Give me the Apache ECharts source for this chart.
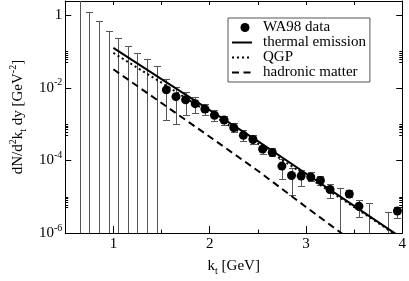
<!DOCTYPE html>
<html><head><meta charset="utf-8">
<script src="https://cdn.jsdelivr.net/npm/echarts@6/dist/echarts.min.js"></script>
<style>html,body{margin:0;padding:0;background:#fff}#c{width:409px;height:281px}</style>
</head><body><div id="c"></div>
<script>
// ---- data ----
const wa98X  = [1.55,1.65,1.75,1.85,1.95,2.05,2.15,2.25,2.35,2.45,2.55,2.65,2.75,2.85,2.95,3.05,3.15,3.25,3.45,3.55,3.95];
const wa98Y  = [8.8e-3,5.7e-3,4.65e-3,3.66e-3,2.61e-3,1.75e-3,1.30e-3,8.0e-4,4.9e-4,3.76e-4,2.06e-4,1.66e-4,7.0e-5,3.86e-5,3.72e-5,3.51e-5,2.81e-5,1.59e-5,1.19e-5,5.48e-6,4.06e-6];
const wa98Up = [1.70e-2,1.05e-2,7.5e-3,5.56e-3,3.59e-3,2.40e-3,1.72e-3,1.08e-3,6.7e-4,4.89e-4,2.53e-4,2.19e-4,1.07e-4,6.1e-5,5.53e-5,4.82e-5,3.79e-5,2.21e-5,1.50e-5,8.13e-6,5.16e-6];
const wa98Lo = [1.30e-3,1.02e-3,1.82e-3,1.97e-3,1.78e-3,1.24e-3,9.6e-4,5.96e-4,3.48e-4,2.78e-4,1.53e-4,1.31e-4,3.11e-5,1.15e-5,1.93e-5,2.69e-5,2.17e-5,9.0e-6,9.55e-6,2.72e-6,2.56e-6];
// bins whose central value lies below the axis: only the upper error end is visible
const limitX  = [0.65,0.75,0.85,0.95,1.05,1.15,1.25,1.35,1.45,3.35,3.65,3.85];
const limitUp = [3.5,1.22,0.67,0.355,0.228,0.139,0.0894,0.0609,0.0389,1.71e-5,6.67e-6,3.89e-6];
const BELOW_AXIS = 1e-9;
const curveX    = [1.0,1.5,2.0,2.5,3.0,3.5,4.0];
const thermalY  = [0.125,0.0174,2.43e-3,3.39e-4,4.38e-5,5.6e-6,7.2e-7];
const qgpY      = [0.091,0.0138,2.0e-3,2.9e-4,3.8e-5,5.2e-6,6.9e-7];
const hadronicY = [0.0323,3.81e-3,4.5e-4,5.2e-5,5.25e-6,5.5e-7];
const xTickLabels = [1,2,3,4];
const xMinorTicks = [1.5,2.5,3.5];
const yTickLabels = [1e-6,1e-4,1e-2,1];
const yMinorTicks = [5e-6,6e-6,7e-6,8e-6,9e-6,1e-5,5e-4,6e-4,7e-4,8e-4,9e-4,1e-3,5e-2,6e-2,7e-2,8e-2,9e-2,1e-1];
const seriesNames = ['WA98 data','thermal emission','QGP','hadronic matter'];

// ---- build ----
const FONT = 'Liberation Serif';
const zip = (a,b) => a.map((v,i)=>[v,b[i]]);
const errData = wa98X.map((x,i)=>[x, wa98Lo[i], wa98Up[i], 1])
  .concat(limitX.map((x,i)=>[x, BELOW_AXIS, limitUp[i], 0]));
const rich = {
  sup:{fontSize:10, lineHeight:10, verticalAlign:'top', fontFamily:FONT, color:'#000'},
  sub:{fontSize:10, lineHeight:10, verticalAlign:'bottom', fontFamily:FONT, color:'#000'}
};
const ERR = '#555';
function renderErr(params, api){
  const x = api.value(0), lo = api.value(1), hi = api.value(2), capLo = api.value(3);
  const a = api.coord([x, hi]), b = api.coord([x, lo]);
  const px = Math.round(a[0]) + 0.5;
  const ya = Math.round(a[1]) + 0.5, yb = Math.round(b[1]) + 0.5;
  const w = 3.5, st = {stroke:ERR, lineWidth:1};
  const ch = [
    {type:'line', shape:{x1:px,y1:ya,x2:px,y2:yb}, style:st},
    {type:'line', shape:{x1:px-w,y1:ya,x2:px+w,y2:ya}, style:st}
  ];
  if (capLo) ch.push({type:'line', shape:{x1:px-w,y1:yb,x2:px+w,y2:yb}, style:st});
  return {type:'group', children:ch};
}
const yBase = {type:'log', min:1e-6, max:2.45, splitLine:{show:false}, minorTick:{show:false}};
const xBase = {type:'value', min:0.5, max:4, splitLine:{show:false}};
const black = {color:'#000', width:1};
const noSym = {color:'rgba(0,0,0,0)', borderWidth:0};
const option = {
  animation:false,
  backgroundColor:'#fff',
  grid:{left:53, right:5, top:1, bottom:34, containLabel:false},
  xAxis:[
    Object.assign({}, xBase, {position:'bottom', interval:0.5,
      axisLine:{show:true, onZero:false, lineStyle:black},
      axisTick:{show:true, inside:true, length:7, customValues:xTickLabels, lineStyle:black},
      axisLabel:{show:true, customValues:xTickLabels, fontSize:15, fontFamily:FONT, color:'#000', margin:3},
      name:'k{sub|t} [GeV]', nameLocation:'middle', nameGap:21,
      nameTextStyle:{fontSize:15, fontFamily:FONT, color:'#000', lineHeight:20, rich:rich}}),
    Object.assign({}, xBase, {position:'bottom', interval:0.5,
      axisLine:{show:false, onZero:false},
      axisTick:{show:true, inside:true, length:3.5, customValues:xMinorTicks, lineStyle:black},
      axisLabel:{show:false}}),
    Object.assign({}, xBase, {position:'top', interval:0.5,
      axisLine:{show:true, onZero:false, lineStyle:black},
      axisTick:{show:true, inside:true, length:4, lineStyle:black},
      axisLabel:{show:false}})
  ],
  yAxis:[
    Object.assign({}, yBase, {position:'left',
      axisLine:{show:true, onZero:false, lineStyle:black},
      axisTick:{show:true, inside:true, length:6, customValues:yTickLabels, lineStyle:black},
      axisLabel:{show:true, customValues:yTickLabels, margin:3, fontSize:15, lineHeight:20, fontFamily:FONT, color:'#000', rich:rich,
        formatter:v=>{const e=Math.round(Math.log10(v)); return e===0?'1':'10{sup|'+e+'}';}},
      name:'dN/d{sup|2}k{sub|t} dy [GeV{sup|-2}]', nameLocation:'middle', nameRotate:90, nameGap:36,
      nameTextStyle:{fontSize:15, fontFamily:FONT, color:'#000', lineHeight:20, rich:rich}}),
    Object.assign({}, yBase, {position:'left',
      axisLine:{show:false, onZero:false},
      axisTick:{show:true, inside:true, length:3, customValues:yMinorTicks, lineStyle:black},
      axisLabel:{show:false}}),
    Object.assign({}, yBase, {position:'right',
      axisLine:{show:true, onZero:false, lineStyle:black},
      axisTick:{show:true, inside:true, length:6, customValues:yTickLabels, lineStyle:black},
      axisLabel:{show:false}}),
    Object.assign({}, yBase, {position:'right',
      axisLine:{show:false, onZero:false},
      axisTick:{show:true, inside:true, length:3, customValues:yMinorTicks, lineStyle:black},
      axisLabel:{show:false}})
  ],
  legend:{
    orient:'vertical', left:228, top:18, itemGap:0, itemWidth:20, itemHeight:14,
    padding:[2,4,2,3], borderColor:'#555', borderWidth:1, backgroundColor:'#fff',
    selectedMode:false,
    textStyle:{fontSize:15, fontFamily:FONT, color:'#000', lineHeight:14.5, padding:[0,0,0,6]},
    data:[
      {name:seriesNames[0], icon:'path://M0,0M20,14M8.5,7A4.5,4.5 0 1 1 17.5,7A4.5,4.5 0 1 1 8.5,7Z', itemStyle:{color:'#000', opacity:1}},
      {name:seriesNames[1], itemStyle:noSym},
      {name:seriesNames[2], itemStyle:noSym},
      {name:seriesNames[3], itemStyle:noSym}
    ]
  },
  series:[
    {type:'custom', name:'errors', renderItem:renderErr, data:errData, clip:true, z:1,
      encode:{x:0, y:[1,2]}},
    {type:'scatter', name:seriesNames[0], data:zip(wa98X,wa98Y), symbol:'circle', symbolSize:9,
      itemStyle:{color:'#000', opacity:1}, z:3},
    {type:'line', name:seriesNames[1], data:zip(curveX,thermalY), symbol:'none', z:2,
      lineStyle:{color:'#000', width:2, type:'solid'}, itemStyle:{color:'#000'}},
    {type:'line', name:seriesNames[2], data:zip(curveX,qgpY), symbol:'none', z:2,
      lineStyle:{color:'#000', width:2, type:[2,3]}, itemStyle:{color:'#000'}},
    {type:'line', name:seriesNames[3], data:zip(curveX.slice(0,hadronicY.length),hadronicY), symbol:'none', z:2,
      lineStyle:{color:'#000', width:2, type:[7,4.5]}, itemStyle:{color:'#000'}}
  ]
};
const chart = echarts.init(document.getElementById('c'), null, {renderer:'canvas'});
chart.setOption(option);
</script>
</body></html>
